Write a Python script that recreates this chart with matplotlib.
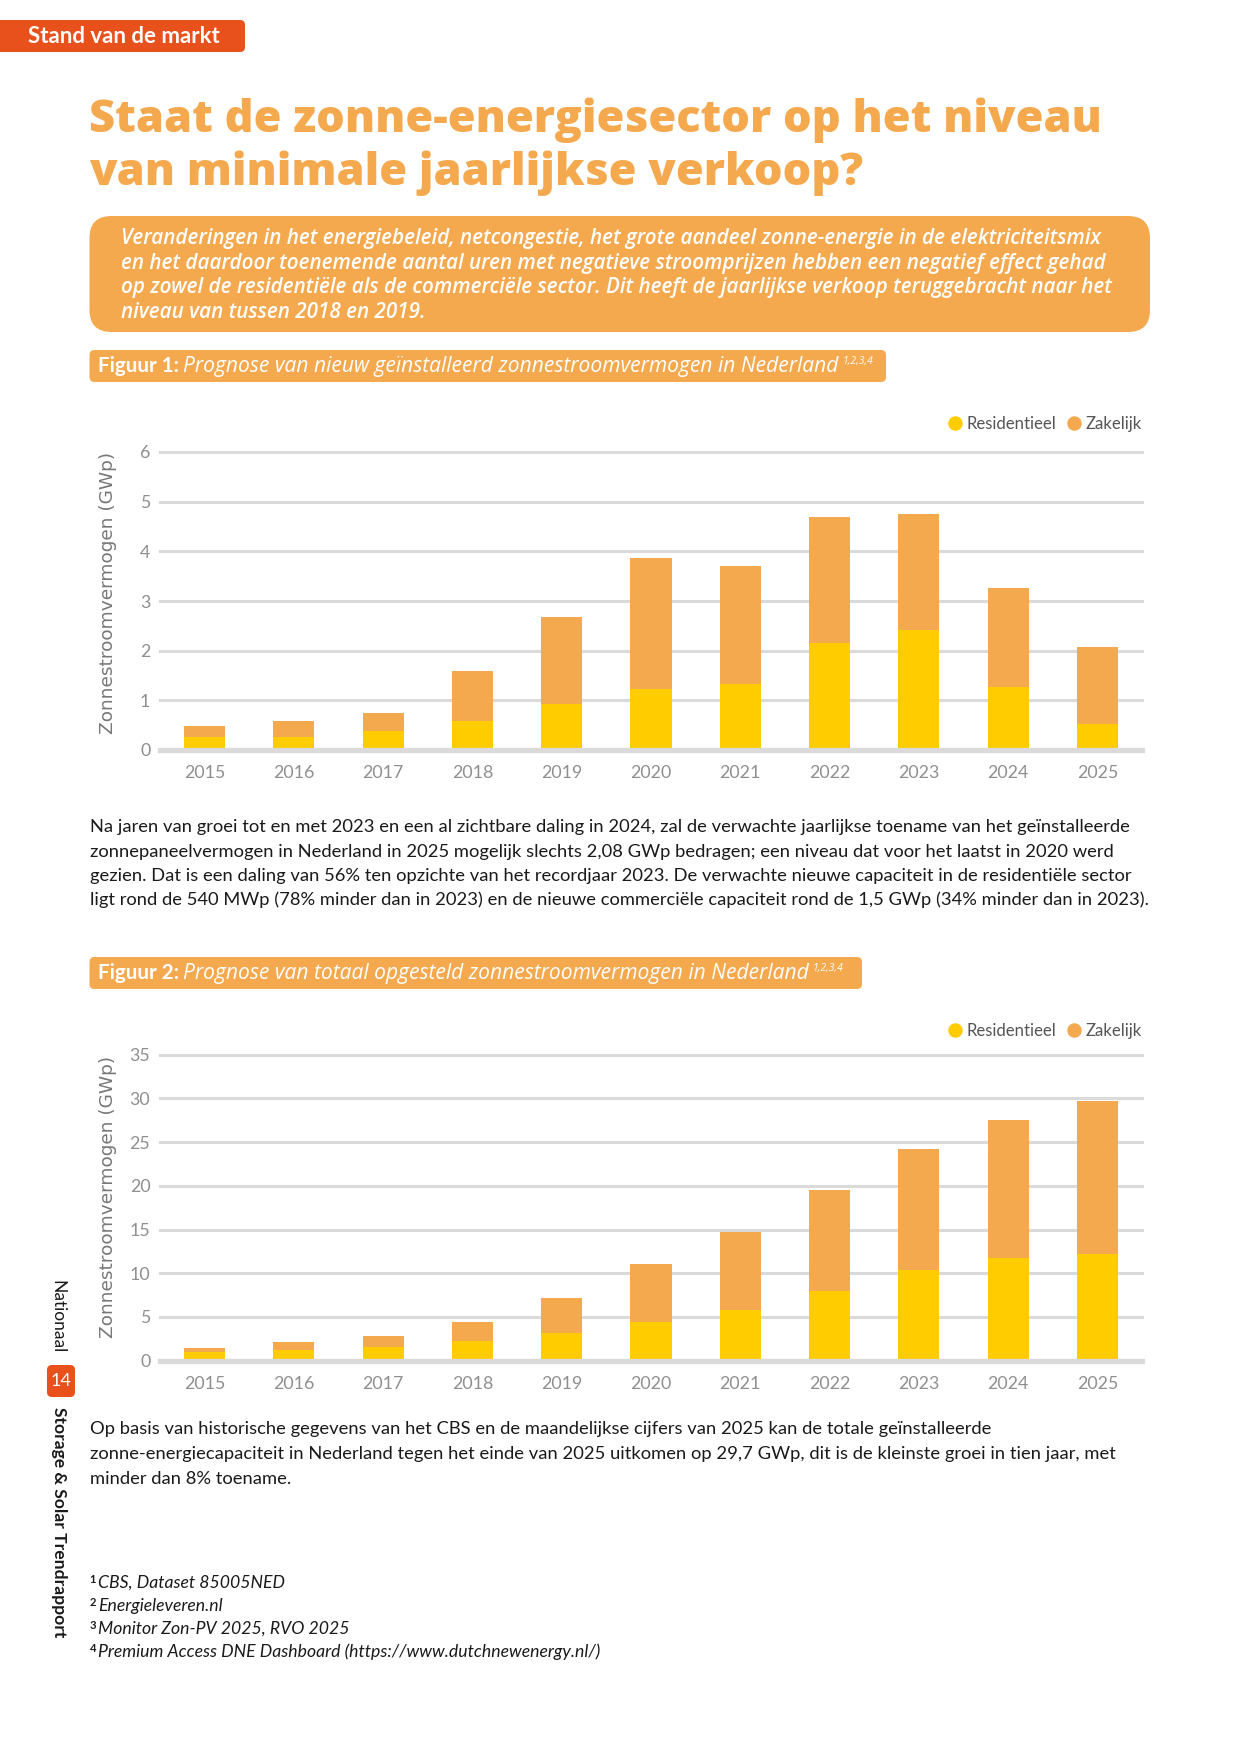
import matplotlib.pyplot as plt
from matplotlib.patches import FancyBboxPatch
from matplotlib.lines import Line2D
import numpy as np

plt.rcParams['font.family'] = ['Lato', 'DejaVu Sans']

# ---- data ----
jaren = ['2015', '2016', '2017', '2018', '2019', '2020', '2021', '2022', '2023', '2024', '2025']

# Figuur 1: nieuw geinstalleerd (GWp)
nieuw_res = [0.26, 0.26, 0.38, 0.58, 0.93, 1.23, 1.33, 2.16, 2.42, 1.27, 0.53]
nieuw_zak = [0.22, 0.32, 0.37, 1.01, 1.75, 2.64, 2.38, 2.54, 2.34, 2.00, 1.55]

# Figuur 2: totaal opgesteld (GWp)
totaal_res = [0.99, 1.22, 1.56, 2.25, 3.16, 4.42, 5.79, 7.97, 10.37, 11.74, 12.20]
totaal_zak = [0.42, 0.91, 1.26, 2.17, 4.01, 6.64, 8.93, 11.55, 13.84, 15.79, 17.50]

ticks1 = [0, 1, 2, 3, 4, 5, 6]
ticks2 = [0, 5, 10, 15, 20, 25, 30, 35]

GEEL = '#FFCC00'
ORANJE = '#F5A94F'
ROOD = '#E8501C'
GRIJS = '#DADADA'

W, H = 1241, 1754
fig = plt.figure(figsize=(W / 100, H / 100), dpi=100)
fig.patch.set_facecolor('white')

# page canvas in pixel units (y down)
bg = fig.add_axes([0, 0, 1, 1], zorder=0)
bg.set_xlim(0, W)
bg.set_ylim(H, 0)
bg.axis('off')
rend = fig.canvas.get_renderer()


def box(x0, y0, x1, y1, r, color):
    bg.add_patch(FancyBboxPatch((x0, y0), x1 - x0, y1 - y0,
                                boxstyle='round,pad=0,rounding_size=%s' % r,
                                fc=color, ec='none'))


def txt(x, y, s, **kw):
    kw.setdefault('va', 'baseline')
    return bg.text(x, y, s, **kw)


def fit(s, width, **kw):
    # font size that makes s about `width` pixels wide
    t = bg.text(0, 0, s, fontsize=10, **kw)
    w = t.get_window_extent(renderer=rend).width
    t.remove()
    return 10 * width / w


def runs(x, y, parts):
    # put pieces of text one after another on a baseline
    for s, dy, gap, kw in parts:
        t = txt(x, y + dy, s, **kw)
        x += t.get_window_extent(renderer=rend).width + gap
    return x


# ---- header ----
box(-20, 20, 245, 52, 5, ROOD)
tag_kw = dict(color='white', fontweight='bold')
txt(28, 43, 'Stand van de markt', fontsize=fit('Stand van de markt', 192, **tag_kw), **tag_kw)

title_kw = dict(color=ORANJE, family=['Open Sans', 'DejaVu Sans'], fontweight='heavy')
title = ['Staat de zonne-energiesector op het niveau', 'van minimale jaarlijkse verkoop?']
ts = fit(title[0], 1015, **title_kw)
txt(89, 132, title[0], fontsize=ts, **title_kw)
txt(89, 185, title[1], fontsize=ts, **title_kw)

box(89.5, 216, 1150, 332, 22, ORANJE)
intro = [
    'Veranderingen in het energiebeleid, netcongestie, het grote aandeel zonne-energie in de elektriciteitsmix',
    'en het daardoor toenemende aantal uren met negatieve stroomprijzen hebben een negatief effect gehad',
    'op zowel de residentiële als de commerciële sector. Dit heeft de jaarlijkse verkoop teruggebracht naar het',
    'niveau van tussen 2018 en 2019.',
]
intro_kw = dict(color='white', family=['Open Sans', 'DejaVu Sans'], fontweight='semibold',
                fontstyle='italic')
isz = fit(intro[0], 980, **intro_kw)
for i, line in enumerate(intro):
    txt(121, 244 + i * 24.7, line, fontsize=isz, **intro_kw)

# ---- figure labels ----
lab_b = dict(color='white', fontweight='bold')
lab_i = dict(color='white', family=['Open Sans', 'DejaVu Sans'], fontstyle='italic')
bsz = fit('Figuur 1:', 81, **lab_b)
lsz = fit('Prognose van nieuw geïnstalleerd zonnestroomvermogen in Nederland', 655, **lab_i)


def fig_label(y0, x1, y1, nr, title):
    box(89.5, y0, x1, y1, 5, ORANJE)
    base = y0 + 22
    runs(98, base, [
        ('Figuur %d:' % nr, 0, 4, dict(fontsize=bsz, **lab_b)),
        (title, 0, 4, dict(fontsize=lsz, **lab_i)),
        ('1,2,3,4', -8, 0, dict(fontsize=7.5, **lab_i)),
    ])


fig_label(350, 886, 382, 1, 'Prognose van nieuw geïnstalleerd zonnestroomvermogen in Nederland')
fig_label(957, 862, 989, 2, 'Prognose van totaal opgesteld zonnestroomvermogen in Nederland')

leg_sz = fit('Residentieel', 90)


# ---- charts ----
def chart(top, bottom, res, zak, ticks, legend_dy, ylab_frac):
    left, right = 160, 1142
    ax = fig.add_axes([left / W, 1 - bottom / H, (right - left) / W, (bottom - top) / H], zorder=2)
    ax.patch.set_alpha(0)
    x = np.arange(len(jaren))
    ax.bar(x, res, width=0.46, color=GEEL, zorder=2)
    ax.bar(x, zak, width=0.46, bottom=res, color=ORANJE, zorder=2)
    ax.set_xlim(-0.5, len(jaren) - 0.5)
    ax.set_ylim(ticks[0], ticks[-1])
    ax.set_yticks(ticks)
    ax.set_xticks(x)
    ax.set_xticklabels(jaren)
    ax.yaxis.grid(True, color=GRIJS, lw=2.2, zorder=0)
    for gl in ax.get_ygridlines():
        gl.set_clip_on(False)
    ax.axhline(0, color=GRIJS, lw=3.8, zorder=3, clip_on=False)
    for s in ax.spines.values():
        s.set_visible(False)
    ax.tick_params(length=0, labelsize=12.8, labelcolor='#8f8f8f')
    ax.tick_params(axis='x', pad=11)
    ax.tick_params(axis='y', pad=7)
    ax.set_ylabel('Zonnestroomvermogen (GWp)', family='DejaVu Sans', fontsize=13.3,
                  color='#777777', va='center')
    ax.yaxis.set_label_coords(-0.053, ylab_frac)
    handles = [Line2D([], [], ls='', marker='o', ms=9.4, color=GEEL),
               Line2D([], [], ls='', marker='o', ms=9.4, color=ORANJE)]
    ax.legend(handles, ['Residentieel', 'Zakelijk'], loc='center right',
              bbox_to_anchor=(1.0, 1 + legend_dy / (bottom - top)), ncol=2,
              frameon=False, fontsize=leg_sz, labelcolor='#555555', handlelength=0.7,
              handletextpad=0.35, columnspacing=0.7, borderpad=0, borderaxespad=0)
    return ax


chart(452, 750, nieuw_res, nieuw_zak, ticks1, 28, 0.527)
chart(1054.7, 1360.7, totaal_res, totaal_zak, ticks2, 23.7, 0.535)

# ---- body text ----
body_kw = dict(color='#1a1a1a')
para1 = [
    'Na jaren van groei tot en met 2023 en een al zichtbare daling in 2024, zal de verwachte jaarlijkse toename van het geïnstalleerde',
    'zonnepaneelvermogen in Nederland in 2025 mogelijk slechts 2,08 GWp bedragen; een niveau dat voor het laatst in 2020 werd',
    'gezien. Dat is een daling van 56% ten opzichte van het recordjaar 2023. De verwachte nieuwe capaciteit in de residentiële sector',
    'ligt rond de 540 MWp (78% minder dan in 2023) en de nieuwe commerciële capaciteit rond de 1,5 GWp (34% minder dan in 2023).',
]
bsz_body = fit(para1[3], 1060, **body_kw)
for i, line in enumerate(para1):
    txt(89.5, 832 + i * 24.5, line, fontsize=bsz_body, **body_kw)

para2 = [
    'Op basis van historische gegevens van het CBS en de maandelijkse cijfers van 2025 kan de totale geïnstalleerde',
    'zonne-energiecapaciteit in Nederland tegen het einde van 2025 uitkomen op 29,7 GWp, dit is de kleinste groei in tien jaar, met',
    'minder dan 8% toename.',
]
for i, line in enumerate(para2):
    txt(89.5, 1434 + i * 24.8, line, fontsize=bsz_body, **body_kw)

bronnen = [
    'CBS, Dataset 85005NED',
    'Energieleveren.nl',
    'Monitor Zon-PV 2025, RVO 2025',
    'Premium Access DNE Dashboard (https://www.dutchnewenergy.nl/)',
]
fn_kw = dict(color='#1a1a1a', fontstyle='italic')
fsz = fit(bronnen[3], 503, **fn_kw)
for i, b in enumerate(bronnen):
    runs(89.5, 1588 + i * 23, [
        (str(i + 1), -5, 2, dict(color='#1a1a1a', fontsize=8, fontweight='bold')),
        (b, 0, 0, dict(fontsize=fsz, **fn_kw)),
    ])

# ---- side bar ----
txt(57, 1280, 'Nationaal', rotation=-90, ha='center', va='top', color='#1a1a1a',
    fontsize=12.5)
box(47, 1365, 75, 1397, 5, ROOD)
txt(61, 1381, '14', ha='center', va='center', color='white', fontsize=13)
txt(59, 1407, 'Storage & Solar Trendrapport', rotation=-90, ha='center', va='top',
    color='#1a1a1a', fontsize=12.6, fontweight='bold')

fig.savefig('out.png', dpi=100, facecolor='white')
